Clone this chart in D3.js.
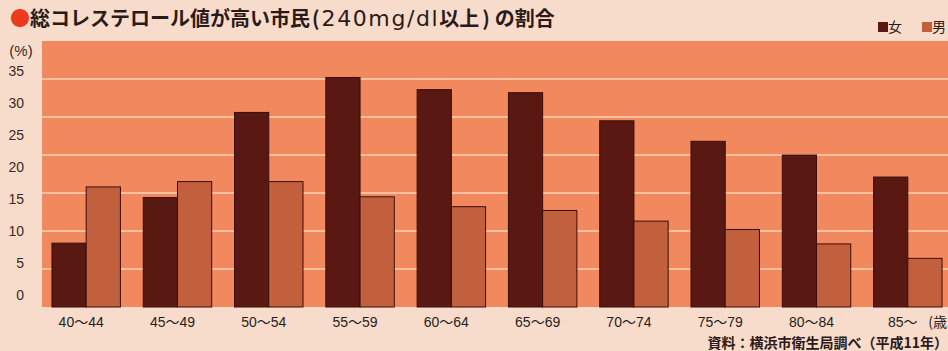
<!DOCTYPE html>
<html>
<head>
<meta charset="utf-8">
<script src="https://cdn.jsdelivr.net/npm/d3@7"></script>
<style>
  body { margin: 0; background: #f7dccb; }
  svg { display: block; }
</style>
</head>
<body>
<div id="chart"></div>
<script>
const ageGroups = ["40～44", "45～49", "50～54", "55～59", "60～64", "65～69", "70～74", "75～79", "80～84", "85～"];
const female = [8.4, 14.4, 25.6, 30.2, 28.6, 28.2, 24.5, 21.8, 20.0, 17.1];
const male = [15.8, 16.5, 16.5, 14.5, 13.2, 12.7, 11.3, 10.2, 8.3, 6.4];
const yTicks = [0, 5, 10, 15, 20, 25, 30, 35];
const seriesNames = ["女", "男"];

const W = 948, H = 351;
const plot = { left: 42, right: 948, top: 41, bottom: 307 };
const colors = { "女": "#5a1813", "男": "#c2603e" };
const latin = "'Liberation Sans', Arial, 'Noto Sans CJK JP', sans-serif";
const jp = "'Noto Sans CJK JP', sans-serif";

const svg = d3.select("#chart").append("svg")
  .attr("width", W)
  .attr("height", H);

svg.append("rect").attr("width", W).attr("height", H).attr("fill", "#f7dccb");

const x = d3.scaleBand()
  .domain(ageGroups)
  .range([plot.left - 1, plot.left + 911])
  .paddingInner(0.25)
  .paddingOuter(0.12);

const xs = d3.scaleBand().domain(seriesNames).range([0, x.bandwidth()]);

const y = d3.scaleLinear().domain([0, 35]).range([plot.bottom, plot.top]);

// printed tick labels sit on a tighter spacing than the grid itself
const yLabel = d3.scaleLinear().domain([0, 35]).range([295, 71]);

// plot background
svg.append("rect")
  .attr("x", plot.left)
  .attr("y", plot.top)
  .attr("width", plot.right - plot.left)
  .attr("height", plot.bottom - plot.top)
  .attr("fill", "#f2885d");

// grid
svg.append("g")
  .selectAll("line")
  .data(yTicks.filter(d => d > 0 && d < 35))
  .join("line")
  .attr("x1", plot.left)
  .attr("x2", plot.right)
  .attr("y1", d => y(d))
  .attr("y2", d => y(d))
  .attr("stroke", "#fbd3b6")
  .attr("stroke-width", 1.3);

// bars
const rows = ageGroups.map((g, i) => ({ group: g, values: [
  { key: "女", value: female[i] },
  { key: "男", value: male[i] }
] }));

svg.append("g")
  .selectAll("g")
  .data(rows)
  .join("g")
  .attr("transform", d => `translate(${x(d.group)},0)`)
  .selectAll("rect")
  .data(d => d.values)
  .join("rect")
  .attr("x", d => xs(d.key))
  .attr("y", d => y(d.value))
  .attr("width", xs.bandwidth())
  .attr("height", d => y(0) - y(d.value))
  .attr("fill", d => colors[d.key])
  .attr("stroke", "#3a0e0b")
  .attr("stroke-width", 1);

// y labels
svg.append("g")
  .selectAll("text")
  .data(yTicks)
  .join("text")
  .attr("x", 24)
  .attr("y", d => yLabel(d))
  .attr("dy", "0.36em")
  .attr("text-anchor", "end")
  .attr("font-family", latin)
  .attr("font-size", 14)
  .attr("fill", "#3a2a26")
  .text(d => d);

svg.append("text")
  .attr("x", 21)
  .attr("y", 56)
  .attr("text-anchor", "middle")
  .attr("font-family", latin)
  .attr("font-size", 15)
  .attr("fill", "#3a2a26")
  .text("(%)");

// x labels
svg.append("g")
  .selectAll("text")
  .data(ageGroups)
  .join("text")
  .attr("x", d => x(d) + x.bandwidth() / 2 - 5)
  .attr("y", 327)
  .attr("text-anchor", "middle")
  .attr("font-family", latin)
  .attr("font-size", 14)
  .attr("fill", "#2a1c1a")
  .text(d => d);

svg.append("text")
  .attr("x", 947)
  .attr("y", 327)
  .attr("text-anchor", "end")
  .attr("font-family", jp)
  .attr("font-size", 14)
  .attr("fill", "#2a1c1a")
  .text("(歳");

// title
const title = svg.append("text")
  .attr("x", 10)
  .attr("y", 26)
  .attr("font-family", jp)
  .attr("font-weight", "bold")
  .attr("font-size", 20)
  .attr("fill", "#2b1a18");
title.append("tspan").attr("fill", "#ec3a1c").text("●");
title.append("tspan").text("総コレステロール値が高い市民");
title.append("tspan").attr("dx", 2).text("(");
title.append("tspan")
  .attr("dx", 2)
  .attr("font-family", "'DejaVu Sans', sans-serif")
  .attr("font-weight", "normal")
  .attr("font-size", 22)
  .attr("letter-spacing", 1.6)
  .text("240mg/dl");
title.append("tspan").text("以上");
title.append("tspan").attr("dx", 3).text(")");
title.append("tspan").attr("dx", 5).text("の割合");

// legend
const legend = svg.append("g")
  .selectAll("g")
  .data(seriesNames)
  .join("g")
  .attr("transform", (d, i) => `translate(${878 + i * 44},22)`);
legend.append("rect")
  .attr("width", 10)
  .attr("height", 10)
  .attr("fill", d => colors[d]);
legend.append("text")
  .attr("x", 10)
  .attr("y", 10)
  .attr("font-family", jp)
  .attr("font-size", 14)
  .attr("fill", "#2b1a18")
  .text(d => d);

// source
svg.append("text")
  .attr("x", 948)
  .attr("y", 348)
  .attr("text-anchor", "end")
  .attr("font-family", jp)
  .attr("font-weight", "bold")
  .attr("font-size", 14)
  .attr("fill", "#2b1a18")
  .text("資料：横浜市衛生局調べ（平成11年）");
</script>
</body>
</html>
